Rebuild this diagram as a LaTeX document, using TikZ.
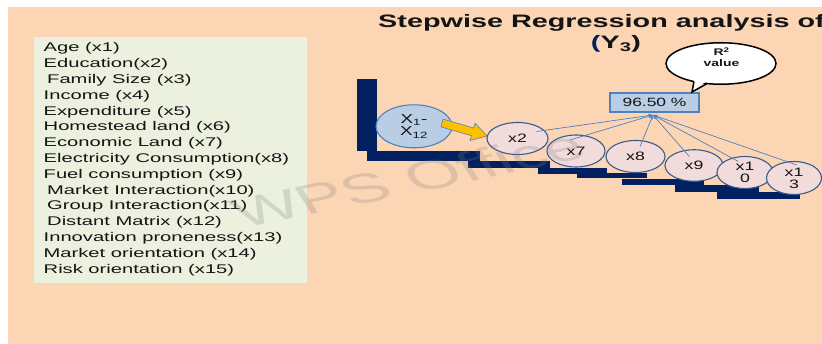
\documentclass[tikz,border=0pt]{standalone}
\usepackage{fontspec}
\usetikzlibrary{shapes.geometric,arrows.meta,calc}
\newfontfamily\stf[FakeStretch=1.6]{Liberation Sans}
\newfontfamily\stg[FakeStretch=1.45]{Liberation Sans}
\newfontfamily\wmf{Liberation Sans}
\definecolor{peach}{RGB}{252,213,181}
\definecolor{listbg}{RGB}{235,241,222}
\definecolor{navy}{RGB}{0,32,96}
\definecolor{lblue}{RGB}{185,205,229}
\definecolor{sblue}{RGB}{79,129,189}
\definecolor{dblue}{RGB}{56,93,138}
\definecolor{pinkc}{RGB}{242,220,219}
\definecolor{gold}{RGB}{255,192,0}
\definecolor{txt}{RGB}{20,20,20}
\begin{document}
\begin{tikzpicture}[x=1pt,y=-1pt,
  stair/.style={fill=navy},
  varc/.style={ellipse, draw=dblue, line width=1.1pt, fill=pinkc, inner sep=0pt},
  lbl/.style={font=\stg\fontsize{12.2}{11.8}\selectfont, text=txt, align=center, inner sep=0pt},
  listline/.style={anchor=base west, font=\stf\fontsize{12.6}{14}\selectfont, inner sep=0pt, text=txt},
  conn/.style={draw=sblue, line width=0.7pt, -{Stealth[length=4.5pt,width=3.5pt]}},
  ttl/.style={font=\stf\bfseries\fontsize{18}{20}\selectfont, inner sep=0pt, text=txt},
  cfont/.style={font=\stg\bfseries\fontsize{9.6}{10}\selectfont, inner sep=0pt, text=txt},
]
\useasboundingbox (0,0) rectangle (822,344);
\fill[white] (0,0) rectangle (822,344);
\fill[peach] (8,7) rectangle (822,344);

% list box
\fill[listbg] (34,37.5) rectangle (307,283);
\foreach \t [count=\i from 0] in {Age (x1), Education(x2), {\hspace*{3.5pt}Family Size (x3)}, Income (x4), Expenditure (x5), Homestead land (x6), Economic Land (x7), Electricity Consumption(x8), Fuel consumption (x9), {\hspace*{3.5pt}Market Interaction(x10)}, {\hspace*{3.5pt}Group Interaction(x11)}, {\hspace*{3.5pt}Distant Matrix (x12)}, Innovation proneness(x13), Market orientation (x14), Risk orientation (x15)}
  \node[listline] (L\i) at (43.5,{52+15.8*\i}) {\t};

% title
\node[ttl, anchor=base west] (T1) at (378,28) {Stepwise Regression analysis of};
\node[ttl, anchor=base] (T2) at (616,49) {\textcolor{navy}{(}Y\textsubscript{3})};

% staircase
\fill[stair] (356.7,79) rectangle (377.3,151.5);
\fill[stair] (366.7,151.5) rectangle (479.5,161);
\fill[stair] (468,161.5) rectangle (550,168);
\fill[stair] (538,168) rectangle (606.7,174);
\fill[stair] (577,173.5) rectangle (647,178.5);
\fill[stair] (621.7,179) rectangle (703.5,185);
\fill[stair] (675,185.5) rectangle (758.5,192.5);
\fill[stair] (716.7,192.5) rectangle (800,199.3);

% big ellipse
\node[ellipse, draw=sblue, fill=lblue, line width=1.1pt, minimum width=76pt, minimum height=43pt, inner sep=0pt] (X) at (414,126.3) {};
\node[lbl, font=\stg\fontsize{13}{12.5}\selectfont] (Xt) at (X) {X\textsubscript{1}-\\X\textsubscript{12}};

% variable circles
\node[varc, minimum width=61pt, minimum height=32pt] (e2) at (517.5,138.5) {};
\node[varc, minimum width=58pt, minimum height=32pt] (e7) at (576,151) {};
\node[varc, minimum width=59pt, minimum height=32pt] (e8) at (635.5,156.5) {};
\node[varc, minimum width=58pt, minimum height=31.5pt] (e9) at (694,165.5) {};
\node[varc, minimum width=56pt, minimum height=32pt] (e10) at (745,172.5) {};
\node[varc, minimum width=55pt, minimum height=33pt] (e13) at (794,178) {};
\node[lbl] (t2) at (e2) {x2};
\node[lbl] (t7) at (e7) {x7};
\node[lbl] (t8) at (e8) {x8};
\node[lbl] (t9) at (e9) {x9};
\node[lbl] (t10) at (e10) {x1\\0};
\node[lbl] (t13) at (e13) {x1\\3};

% yellow arrow
\filldraw[fill=gold, draw=sblue, line width=0.6pt, line join=miter]
  (443.11,119.16) -- (473.70,128.0) -- (475.09,123.19) -- (487,136)
  -- (470.09,140.49) -- (471.48,135.68) -- (440.89,126.84) -- cycle;

% R2 box
\node[draw=sblue, fill=lblue, line width=1.2pt, minimum width=89pt, minimum height=19pt, inner sep=0pt, font=\stg\fontsize{12}{12}\selectfont, text=txt] (R) at (654.5,102.5) {96.50 \%};

% connectors
\coordinate (tip) at (653,115);
\draw[conn] ($(e2)+(19,-7)$) -- (tip);
\draw[conn] ($(e7)+(-6,-11)$) -- (tip);
\draw[conn] ($(e8)+(4.5,-10)$) -- (tip);
\draw[conn] ($(e9)+(-4.7,-9)$) -- (tip);
\draw[conn] ($(e10)+(-6.7,-11)$) -- (tip);
\draw[conn] ($(e13)+(2.7,-13)$) -- (tip);

% callout
\node[ellipse, draw=black, fill=white, line width=1.5pt, minimum width=110pt, minimum height=41.5pt, inner sep=0pt] (C) at (721,63.5) {};
\fill[white] (694.5,79) -- (692,92) -- (706.5,81) -- cycle;
\draw[line width=1.5pt, line join=miter] (694,81.6) -- (692,92) -- (707,83.6);
\node[cfont] (Ct1) at (721.5,51.5) {R\textsuperscript{2}};
\node[cfont] (Ct2) at (721.5,63.5) {value};

% watermark
\begin{scope}[shift={(408,179)}, xscale=1.75]
\node[rotate=20, transform shape, font=\wmf\fontsize{41}{41}\selectfont, text=gray, text opacity=0.24, inner sep=0pt] (wm) at (0,0) {WPS Office};
\end{scope}
\end{tikzpicture}
\end{document}
